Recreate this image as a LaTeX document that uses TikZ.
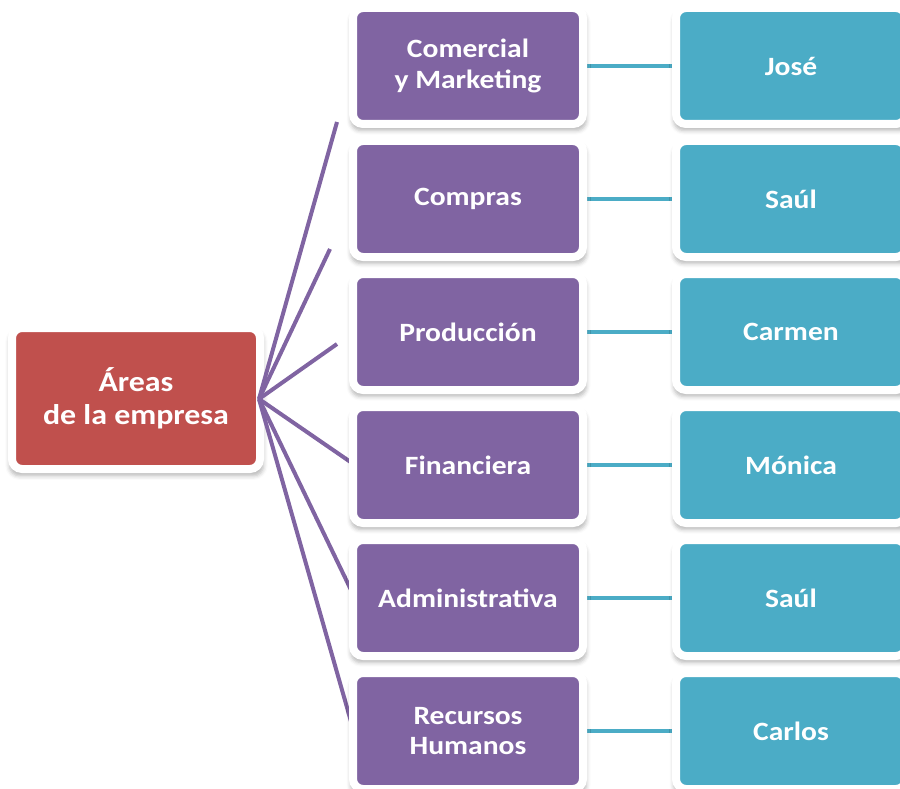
\documentclass[tikz,border=0pt]{standalone}
\usepackage{fontspec}
\setmainfont{Carlito}[FakeStretch=1.12]
\usetikzlibrary{shadows.blur,backgrounds}
\pgfdeclarelayer{bottom}
\pgfsetlayers{bottom,background,main}
\definecolor{cred}{HTML}{C0504D}
\definecolor{cpurple}{HTML}{8064A2}
\definecolor{cteal}{HTML}{4BACC6}
\tikzset{
  softshadow/.style={blur shadow={shadow xshift=0.5pt, shadow yshift=-5pt, shadow blur radius=4pt, shadow scale=1.025, shadow opacity=28}},
  box/.style={draw=white, line width=8pt, outer sep=0pt, rounded corners=10pt, minimum width=230pt, minimum height=116pt,
    text=white, align=center, font=\fontsize{26.4}{30.5}\selectfont\bfseries, softshadow},
  area/.style={box, fill=cpurple},
  person/.style={box, fill=cteal},
  rootbox/.style={box, fill=cred, minimum width=248pt, minimum height=141pt, font=\fontsize{28.5}{33.5}\selectfont\bfseries},
  plink/.style={draw=cpurple, line width=4pt},
  tlink/.style={draw=cteal, line width=4pt}
}
\begin{document}
\begin{tikzpicture}[x=1pt,y=-1pt]
\begin{pgfonlayer}{bottom}
\fill[white] (0,0) rectangle (900,789);
\end{pgfonlayer}
\useasboundingbox (0,0) rectangle (900,789);
% off-page warm-up of the shadow machinery
\path[softshadow, fill=white] (-400,-400) rectangle (-300,-300);
\node[rootbox] (root) at (136,398.5) {Áreas\\de la empresa};
\coordinate (o) at (259,399);
\coordinate (e1) at (337,122);
\coordinate (e2) at (330,249);
\coordinate (e3) at (337,344);
\coordinate (e4) at (352,463);
\coordinate (e5) at (352,592);
\coordinate (e6) at (352,725);
\foreach \i in {1,...,6} {
  \draw[plink] (o) -- (e\i);
}
\node[area] (a1) at (468,66) {Comercial\\y Marketing};
\node[area] (a2) at (468,199) {Compras};
\node[area] (a3) at (468,332) {Producción};
\node[area] (a4) at (468,465) {Financiera};
\node[area] (a5) at (468,598) {Administrativa};
\node[area] (a6) at (468,731) {Recursos\\Humanos};
\node[person] (p1) at (791,66) {José};
\node[person] (p2) at (791,199) {Saúl};
\node[person] (p3) at (791,332) {Carmen};
\node[person] (p4) at (791,465) {Mónica};
\node[person] (p5) at (791,598) {Saúl};
\node[person] (p6) at (791,731) {Carlos};
\begin{pgfonlayer}{background}
\foreach \i in {1,...,6} {
  \draw[tlink] (a\i.east) -- (p\i.west);
}
\end{pgfonlayer}
\end{tikzpicture}
\end{document}
